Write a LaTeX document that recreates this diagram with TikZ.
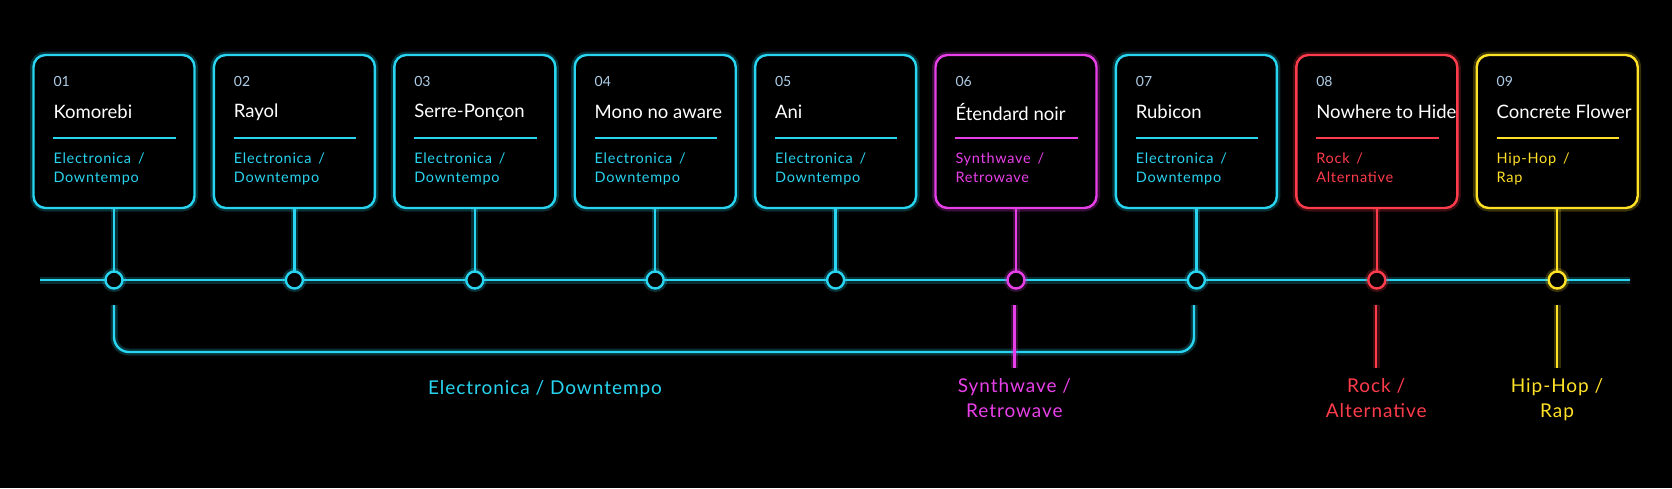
\documentclass[tikz,border=0pt]{standalone}
\usepackage{fontspec}
\setmainfont{Lato}
\definecolor{ecy}{RGB}{40,212,240}
\definecolor{emg}{RGB}{232,64,232}
\definecolor{erd}{RGB}{255,60,75}
\definecolor{eyl}{RGB}{255,225,40}
\definecolor{numc}{RGB}{175,205,230}
\newcommand{\gsl}{\,/}
\begin{document}
\begin{tikzpicture}[x=1pt,y=-1pt,
  glow/.style={preaction={draw=#1,line width=7pt,opacity=0.22},draw=#1,line width=2.4pt},
  box/.style={glow=#1,rounded corners=12pt,minimum width=161pt,minimum height=153pt,fill=black,inner sep=0pt},
  dot/.style={circle,glow=#1,fill=black,minimum size=17pt,inner sep=0pt},
  num/.style={anchor=west,inner sep=0pt,text=numc,font=\fontsize{14}{14}\selectfont},
  ttl/.style={anchor=west,inner sep=0pt,text=white,font=\fontsize{18.5}{18.5}\selectfont},
  gen/.style={anchor=north west,text=#1,font=\fontsize{14.5}{19}\selectfont\addfontfeature{LetterSpace=5},align=left,inner sep=0pt},
  lab/.style={text=#1,font=\fontsize{19}{25}\selectfont\addfontfeature{LetterSpace=5},align=center}]
\fill[black] (0,0) rectangle (1672,488);
\useasboundingbox (0,0) rectangle (1672,488);
\coordinate (L) at (40,280);
\coordinate (R) at (1630,280);
\draw[glow=ecy] (L) -- (R);
\foreach \i/\t/\ga/\gb/\c in {1/Komorebi/Electronica \gsl/Downtempo/ecy,
  2/Rayol/Electronica \gsl/Downtempo/ecy,
  3/Serre-Ponçon/Electronica \gsl/Downtempo/ecy,
  4/Mono no aware/Electronica \gsl/Downtempo/ecy,
  5/Ani/Electronica \gsl/Downtempo/ecy,
  6/Étendard noir/Synthwave \gsl/Retrowave/emg,
  7/Rubicon/Electronica \gsl/Downtempo/ecy,
  8/Nowhere to Hide/Rock \gsl/Alternative/erd,
  9/Concrete Flower/Hip-Hop \gsl/Rap/eyl}{
  \pgfmathsetmacro{\cx}{114+180.4*(\i-1)}
  \node[box=\c] (b\i) at (\cx,131.5) {};
  \draw[glow=\c] (b\i.south) -- (\cx,271);
  \node[dot=\c] (d\i) at (\cx,280) {};
  \node[num] (n\i) at ([xshift=21pt]b\i.west |- 0,81) {0\i};
  \node[ttl] (t\i) at ([xshift=21pt]b\i.west |- 0,112) {\t};
  \draw[\c,line width=1.6pt] ([xshift=21pt]b\i.west |- 0,138) coordinate (r\i) -- ([xshift=-20pt]b\i.east |- 0,138);
  \node[gen=\c] (g\i) at ([xshift=21pt]b\i.west |- 0,153) {\ga\\\gb};
}
\coordinate (bl) at (114,305);
\coordinate (br) at (1194,305);
\draw[glow=ecy,rounded corners=15pt] (bl) -- (114,352) -- (1194,352) -- (br);
\node[lab=ecy] (le) at (545,389) {Electronica / Downtempo};
\coordinate (s6) at (1014.4,305);
\coordinate (s8) at (1376.2,305);
\coordinate (s9) at (1557,305);
\draw[glow=emg] (s6) -- (1014.4,368);
\draw[glow=erd] (s8) -- (1376.2,368);
\draw[glow=eyl] (s9) -- (1557,368);
\node[lab=emg,anchor=north] (l6) at (1014.4,375) {Synthwave /\\Retrowave};
\node[lab=erd,anchor=north] (l8) at (1376.2,375) {Rock /\\Alternative};
\node[lab=eyl,anchor=north] (l9) at (1557,375) {Hip-Hop /\\Rap};
\end{tikzpicture}
\end{document}
